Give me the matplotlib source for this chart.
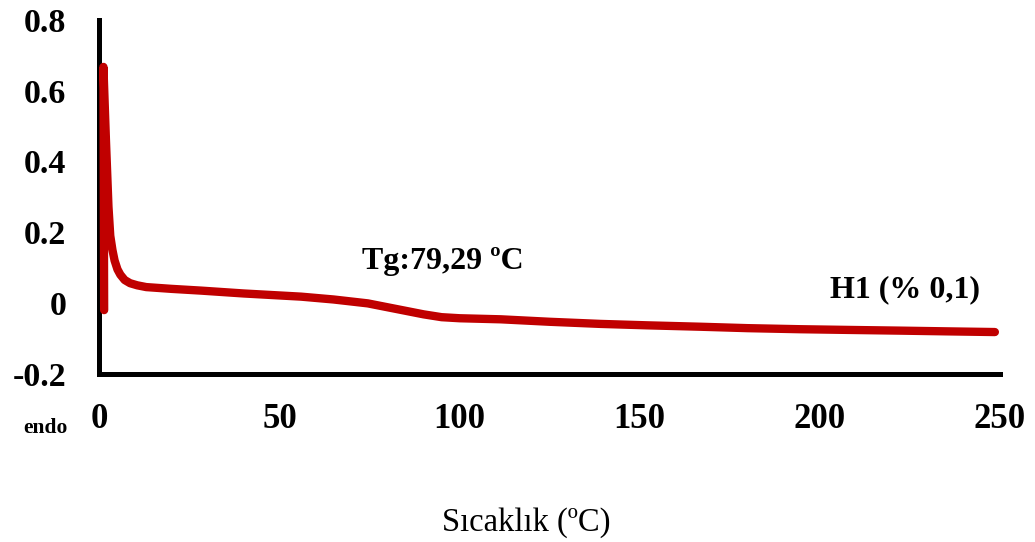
import matplotlib
matplotlib.use("Agg")
import matplotlib.pyplot as plt

# DSC curve: temperature (°C) vs heat flow
temp = [1.3, 1.1, 1.8, 2.5, 3.0, 3.6, 4.2, 5.0, 5.8, 7.0, 8.5, 10.5, 13.0,
        20.0, 28.3, 40.0, 56.0, 65.0, 74.5, 80.0, 84.0, 90.0, 95.0, 100.0,
        111.4, 125.0, 139.1, 152.0, 166.9, 180.0, 194.6, 208.0, 222.3,
        235.0, 248.6]
heat_flow = [-0.020, 0.667, 0.460, 0.272, 0.190, 0.150, 0.120, 0.095, 0.080,
             0.065, 0.056, 0.050, 0.045, 0.040, 0.035, 0.027, 0.018, 0.010,
             -0.001, -0.012, -0.020, -0.032, -0.040, -0.043, -0.046, -0.053,
             -0.059, -0.063, -0.067, -0.071, -0.074, -0.076, -0.078, -0.080,
             -0.082]

x_ticks = [0, 50, 100, 150, 200, 250]
y_ticks = [-0.2, 0, 0.2, 0.4, 0.6, 0.8]
y_tick_labels = ["-0.2", "0", "0.2", "0.4", "0.6", "0.8"]

SERIF = ["Liberation Serif", "DejaVu Serif"]
plt.rcParams["font.family"] = SERIF

fig = plt.figure(figsize=(10.35, 5.42), dpi=100)
ax = fig.add_axes([0.0961, 0.3103, 0.8700, 0.6531])

ax.plot(temp, heat_flow, color="#C00000", lw=6, solid_capstyle="round",
        solid_joinstyle="round", clip_on=False, zorder=3)

ax.set_xlim(0, 250)
ax.set_ylim(-0.2, 0.8)
ax.set_xticks(x_ticks)
ax.set_xticklabels([str(t) for t in x_ticks], fontsize=25, fontweight="bold")
ax.set_yticks(y_ticks)
ax.set_yticklabels(y_tick_labels, fontsize=24.5, fontweight="bold")
ax.tick_params(axis="both", length=0)
ax.tick_params(axis="x", pad=21)
ax.tick_params(axis="y", pad=24)

for side in ("top", "right"):
    ax.spines[side].set_visible(False)
for side in ("left", "bottom"):
    ax.spines[side].set_linewidth(3.6)
    ax.spines[side].set_color("black")

ax.text(72.9, 0.116, "Tg:79,29 ºC", fontsize=23, fontweight="bold",
        ha="left", va="center")
ax.text(244.4, 0.037, "H1 (% 0,1)", fontsize=23, fontweight="bold",
        ha="right", va="center")

fig.text(45 / 1035, 1 - 428 / 542, "endo", fontsize=15.5, fontweight="bold",
         ha="center", va="center")
fig.text(526 / 1035, 1 - 523 / 542, "Sıcaklık (ºC)", fontsize=23.5,
         ha="center", va="center")

fig.savefig("out.png", dpi=100, facecolor="white")
